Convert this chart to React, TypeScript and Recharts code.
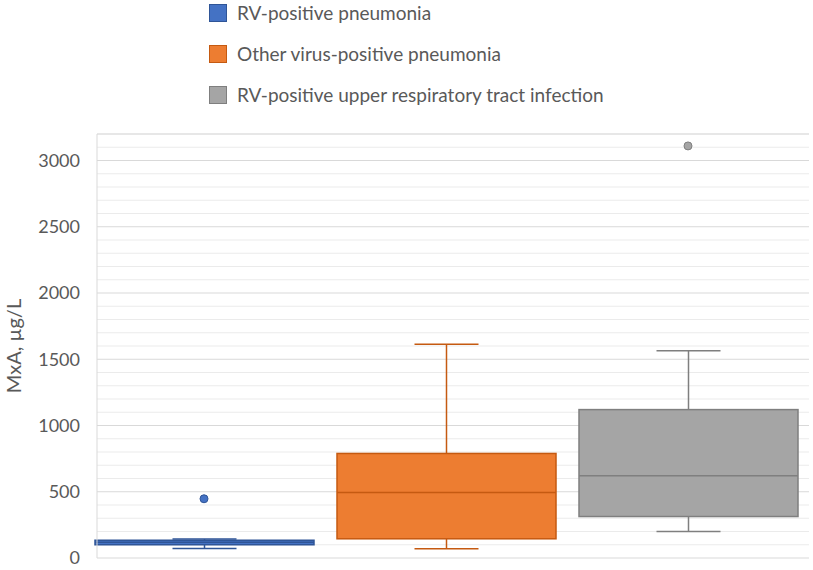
import React from "react";
import {
  ComposedChart,
  Bar,
  Scatter,
  XAxis,
  YAxis,
  CartesianGrid,
  Legend,
} from "recharts";

const categories = [
  "RV-positive pneumonia",
  "Other virus-positive pneumonia",
  "RV-positive upper respiratory tract infection",
];
const mins = [72, 70, 200];
const q1s = [100, 145, 313];
const medians = [118, 495, 621];
const q3s = [134, 789, 1120];
const maxs = [143, 1614, 1564];
const outliers: (number | null)[] = [447, null, 3110];
const majorTicks = [0, 500, 1000, 1500, 2000, 2500, 3000];
const minorTicks = Array.from({ length: 33 }, (_, i) => i * 100).filter((v) => v % 500 !== 0);
const Y_DOMAIN: [number, number] = [0, 3200];

const fills = ["#4472C4", "#ED7D31", "#A5A5A5"];
const strokes = ["#2F5597", "#C55A11", "#7F7F7F"];

const data = categories.map((name, i) => ({
  name,
  range: [mins[i], maxs[i]],
  min: mins[i],
  q1: q1s[i],
  median: medians[i],
  q3: q3s[i],
  max: maxs[i],
  outlier: outliers[i],
  fill: fills[i],
  stroke: strokes[i],
}));

const FONT = "Lato, 'Open Sans', sans-serif";

const minorGen = (props: any) => {
  const yAxis = props && props.yAxis;
  if (yAxis && typeof yAxis.scale === "function") {
    return minorTicks.map((t) => yAxis.scale(t));
  }
  const off = props.offset;
  return minorTicks.map(
    (t) => off.top + off.height * (1 - (t - Y_DOMAIN[0]) / (Y_DOMAIN[1] - Y_DOMAIN[0]))
  );
};

const BoxShape = (props: any) => {
  const { x, y, width, height, payload } = props;
  if (x == null || y == null) return null;
  const top = Math.min(y, y + height);
  const bottom = Math.max(y, y + height);
  const hi = payload.max;
  const lo = payload.min;
  const py = (v: number) => top + ((hi - v) / (hi - lo)) * (bottom - top);
  const cx = x + width / 2;
  const capHalf = 32;
  const yq1 = py(payload.q1);
  const yq3 = py(payload.q3);
  const ymed = py(payload.median);
  const s = payload.stroke;
  return (
    <g>
      <line x1={cx} x2={cx} y1={top} y2={yq3} stroke={s} strokeWidth={1.5} />
      <line x1={cx} x2={cx} y1={yq1} y2={bottom} stroke={s} strokeWidth={1.5} />
      <line x1={cx - capHalf} x2={cx + capHalf} y1={top} y2={top} stroke={s} strokeWidth={1.5} />
      <line x1={cx - capHalf} x2={cx + capHalf} y1={bottom} y2={bottom} stroke={s} strokeWidth={1.5} />
      <rect x={x} y={yq3} width={width} height={Math.max(yq1 - yq3, 1)} fill={payload.fill} stroke={s} strokeWidth={1.5} />
      <line x1={x} x2={x + width} y1={ymed} y2={ymed} stroke={s} strokeWidth={1.5} />
    </g>
  );
};

const OutlierShape = (props: any) => {
  const { cx, cy, payload } = props;
  if (cx == null || cy == null || payload == null || payload.outlier == null || isNaN(cy)) return null;
  return <circle cx={cx} cy={cy} r={4} fill={payload.fill} stroke={payload.stroke} strokeWidth={1} />;
};

const LegendContent = () => (
  <div style={{ fontFamily: FONT, fontSize: 19, color: "#595959" }}>
    {categories.map((c, i) => (
      <div key={c} style={{ display: "flex", alignItems: "center", height: 41 }}>
        <div
          style={{
            width: 18,
            height: 18,
            background: fills[i],
            border: `1px solid ${strokes[i]}`,
            marginRight: 10,
            boxSizing: "border-box",
          }}
        />
        <span>{c}</span>
      </div>
    ))}
  </div>
);

export default function App() {
  return (
    <div style={{ position: "absolute", left: 0, top: 0, width: 813, height: 570, background: "#fff" }}>
      <ComposedChart
        width={813}
        height={570}
        data={data}
        margin={{ top: 11, right: 4, bottom: 12, left: 0 }}
      >
        <CartesianGrid vertical={false} stroke="#ebebeb" horizontalCoordinatesGenerator={minorGen} />
        <CartesianGrid vertical={false} stroke="#d9d9d9" />
        <XAxis
          dataKey="name"
          type="category"
          tick={false}
          tickLine={false}
          height={0}
          axisLine={{ stroke: "#d9d9d9" }}
          padding={{ left: -14, right: 0 }}
        />
        <YAxis
          width={97}
          domain={Y_DOMAIN}
          ticks={majorTicks}
          type="number"
          tickLine={false}
          tickMargin={11}
          axisLine={{ stroke: "#d9d9d9" }}
          tick={{ fill: "#595959", fontSize: 18, fontFamily: FONT }}
          label={{
            value: "MxA, µg/L",
            angle: -90,
            position: "insideLeft",
            offset: 14,
            style: { fill: "#595959", fontSize: 20, fontFamily: FONT, textAnchor: "middle" },
          }}
        />
        <Bar dataKey="range" barSize={219} shape={<BoxShape />} isAnimationActive={false} />
        <Scatter dataKey="outlier" shape={<OutlierShape />} isAnimationActive={false} />
        <Legend
          verticalAlign="top"
          content={<LegendContent />}
          wrapperStyle={{ position: "absolute", top: -8, left: 209, width: 500 }}
        />
      </ComposedChart>
    </div>
  );
}
